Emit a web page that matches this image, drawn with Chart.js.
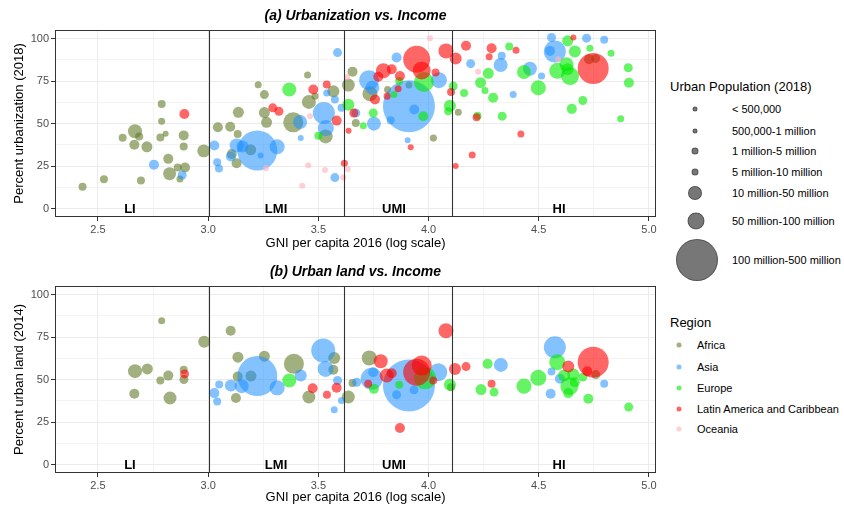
<!DOCTYPE html>
<html lang="en">
<head>
    <meta charset="UTF-8">
    <title>Urbanization vs. Income</title>
    <script src="https://cdn.jsdelivr.net/npm/chart.js"></script>
    <style>
        body { margin: 0; background: #fff; font-family: "Liberation Sans", Arial, sans-serif; }
        #wrap { position: relative; width: 844px; height: 509px; overflow: hidden; }
        canvas { position: absolute; left: 0; }
        .lg-title { position: absolute; left: 670px; font-size: 13px; color: #000; transform: translateY(-50%); white-space: nowrap; }
        .lg-label { position: absolute; font-size: 11px; color: #000; transform: translateY(-50%); white-space: nowrap; }
        .lg-dot { position: absolute; border-radius: 50%; transform: translate(-50%, -50%); }
        .size-dot { background: rgba(95,95,95,0.85); border: 1px solid rgba(60,60,60,0.6); box-sizing: border-box; }
    </style>
</head>
<body>
<div id="wrap">
    <canvas id="chartA" width="660" height="255" style="top:0;width:660px;height:255px"></canvas>
    <canvas id="chartB" width="660" height="253" style="top:256px;width:660px;height:253px"></canvas>

    <!-- size legend -->
    <div class="lg-title" style="top:86px">Urban Population (2018)</div>
    <div class="lg-dot size-dot" style="left:695px;top:109px;width:5px;height:5px"></div>
    <div class="lg-label" style="left:732px;top:109px">&lt; 500,000</div>
    <div class="lg-dot size-dot" style="left:695px;top:131px;width:5px;height:5px"></div>
    <div class="lg-label" style="left:732px;top:131px">500,000-1 million</div>
    <div class="lg-dot size-dot" style="left:695px;top:151px;width:7px;height:7px"></div>
    <div class="lg-label" style="left:732px;top:151px">1 million-5 million</div>
    <div class="lg-dot size-dot" style="left:695px;top:172px;width:7px;height:7px"></div>
    <div class="lg-label" style="left:732px;top:172px">5 million-10 million</div>
    <div class="lg-dot size-dot" style="left:695px;top:193px;width:14px;height:14px"></div>
    <div class="lg-label" style="left:732px;top:193px">10 million-50 million</div>
    <div class="lg-dot size-dot" style="left:696px;top:221px;width:17px;height:17px"></div>
    <div class="lg-label" style="left:732px;top:221px">50 million-100 million</div>
    <div class="lg-dot size-dot" style="left:697px;top:260px;width:42px;height:42px"></div>
    <div class="lg-label" style="left:732px;top:260px">100 million-500 million</div>

    <!-- region legend -->
    <div class="lg-title" style="top:322px">Region</div>
    <div id="regionLegend"></div>
</div>

<script>
    // --- data: [GNI per capita (log10), percent, urban population (millions, estimated)] ---
    const REGIONS = ['Africa', 'Asia', 'Europe', 'Latin America and Caribbean', 'Oceania'];
    const REGION_COLORS = ['rgba(100,122,40,0.6)', 'rgba(30,144,255,0.55)', 'rgba(0,235,0,0.6)', 'rgba(255,0,0,0.6)', 'rgba(255,182,193,0.65)'];

    const X_TICKS = [2.5, 2.75, 3.0, 3.25, 3.5, 3.75, 4.0, 4.25, 4.5, 4.75, 5.0];
    const Y_TICKS = [0, 12.5, 25, 37.5, 50, 62.5, 75, 87.5, 100];
    const THRESHOLDS = [3.005, 3.615, 4.105];
    const INCOME_GROUPS = ['LI', 'LMI', 'UMI', 'HI'];
    const INCOME_GROUP_X = [2.645, 3.308, 3.843, 4.592];

    const africaUrb = [
        [2.43,12.8,3.1],[2.527,17.2,3.1],[2.695,16.4,3.1],[2.612,41.6,3.1],[2.668,45.4,28],
        [2.687,42.4,3.1],[2.665,37.5,8.7],[2.722,36.3,12.5],[2.789,61.5,3.1],[2.789,51.3,1.4],
        [2.783,41.8,3.1],[2.807,44,0.35],[2.889,43,8.7],[2.889,36.5,3.1],[2.819,29.2,8.7],
        [2.825,20.5,22],[2.862,24.1,3.1],[2.895,24.1,8.7],[2.872,17.4,1.4],[2.98,33.9,22],
        [3.044,47.8,8.7],[3.1,48.1,8.7],[3.137,56.6,12.5],[3.134,43.8,3.1],[3.107,32,8.7],
        [3.129,26.6,8.7],[3.193,34.5,12.5],[3.255,56.4,12.5],[3.265,50.7,12.5],[3.227,72.8,1.4],
        [3.255,67,5.5],[3.386,50.7,78],[3.457,62.7,28],[3.451,78.5,1.4],[3.485,66.1,1.4],
        [3.568,69,17],[3.533,42.4,28],[3.655,80.5,8.7],[3.636,72.6,22],[3.67,50.3,3.1],
        [3.734,67.5,35],[3.814,70,1.4],[3.911,72.6,1.4],[4.022,41.4,1.4],[4.135,56.6,1.4],
        [4.728,87.8,8.7],[4.758,88.3,5.5]
    ];
    const asiaUrb = [
        [2.882,19.7,5.5],[2.754,25.8,8.7],[3.028,37.1,8.7],[3.041,27.2,3.1],[3.049,23.5,3.1],
        [3.129,37.1,28],[3.156,36.5,17],[3.103,30.6,8.7],[3.223,34.1,424],[3.313,36.3,35],
        [3.238,31.2,0.35],[3.417,50.9,28],[3.42,41.4,0.35],[3.538,68,1.4],[3.575,64.1,3.1],
        [3.525,56.2,100],[3.534,47.3,42],[3.575,18.2,5.5],[3.587,91.7,5.5],[3.605,59.2,3.1],
        [3.855,88.8,8.7],[3.911,60.2,764],[3.73,75.5,78],[3.745,71,28],[3.67,56.2,5.5],
        [3.752,49.9,28],[3.935,58.2,8.7],[3.828,51.9,3.1],[3.905,40.1,0.35],[4.047,75.5,42],
        [4.191,85.2,5.5],[4.332,89.8,3.1],[4.327,84.4,28],[4.384,67,1.4],[4.46,82.2,28],
        [4.513,77.9,1.4],[4.573,92.3,100],[4.558,100.6,5.5],[4.551,92.7,8.7],[4.717,100.2,5.5],
        [4.797,99.2,3.1]
    ];
    const europeUrb = [
        [3.368,70,28],[3.5,42.8,3.1],[3.636,61.1,17],[3.979,74.4,78],[3.867,75,3.1],
        [3.704,48.7,1.4],[3.749,56.2,5.5],[3.843,67,1.4],[3.976,54.3,8.7],[4.097,60.5,17],
        [4.089,57.2,3.1],[4.112,72,5.5],[4.161,68,3.1],[4.366,95.3,3.1],[4.271,79.5,12.5],
        [4.236,74,12.5],[4.256,69.4,1.4],[4.293,65.1,8.7],[4.334,54.3,5.5],[4.222,54.5,3.1],
        [4.433,80.3,28],[4.498,71,35],[4.631,98.6,12.5],[4.664,92.3,17],[4.732,94.3,1.4],
        [4.828,91.3,1.4],[4.584,81,42],[4.626,84.8,28],[4.642,77.9,58],[4.631,81.9,17],
        [4.906,82.8,5.5],[4.909,74,8.7],[4.7,63.5,5.5],[4.65,58.6,8.7],[4.872,52.8,1.4]
    ];
    const latamUrb = [
        [2.892,55.6,8.7],[3.293,59.2,5.5],[3.321,57.2,5.5],[3.477,70,8.7],[3.538,73,3.1],
        [3.583,51.7,8.7],[3.618,26.6,1.4],[3.661,56.2,5.5],[3.637,45.7,0.35],[3.946,87.8,167],
        [3.969,81.2,58],[4.079,92.7,35],[4.123,88.2,17],[4.17,95.7,8.7],[3.795,81,35],
        [3.833,81.9,8.7],[3.87,77.9,8.7],[3.772,77.5,8.7],[3.757,64.1,8.7],[3.812,66.1,1.4],
        [3.862,70.4,1.4],[3.919,36.1,0.35],[4.102,68.5,3.1],[4.123,25,0.35],[4.032,80,3.1],
        [4.286,94.3,8.7],[4.275,89.3,1.4],[4.397,93.1,1.4],[4.218,53.7,3.1],[4.419,43.8,1.4],
        [4.198,31.5,1.4],[4.657,100.6,0.35],[4.747,82.4,234]
    ];
    const oceaniaUrb = [
        [3.262,23.7,0.35],[3.454,25.4,0.35],[3.427,13.4,0.35],[3.462,54.3,0.35],[3.53,22.7,0.35],
        [3.613,18.3,0.35],[3.633,23.3,0.35],[3.631,77.3,0.35],[4.006,100.2,0.35],[4.225,80.5,0.35],
        [4.588,87.8,0.35]
    ];

    const africaLand = [
        [2.789,84.5,1.4],[2.982,72.2,17],[2.668,54.9,28],[2.724,56.2,12.5],[2.819,52.3,8.7],
        [2.783,49.4,3.1],[2.889,55.7,3.1],[2.89,50,5.5],[2.665,41.6,8.7],[2.827,39.1,22],
        [3.102,78.7,8.7],[3.135,63.1,12.5],[3.255,63.7,12.5],[3.194,52,12.5],[3.134,51.7,8.7],
        [3.126,39.1,8.7],[3.389,59.2,78],[3.457,39.7,22],[3.572,62.7,17],[3.568,55.7,8.7],
        [3.636,39.7,22],[3.655,47.9,3.1],[3.731,62.7,35],[4.102,45.5,3.1],[4.759,52.9,5.5]
    ];
    const asiaLand = [
        [3.223,52,424],[3.152,46.1,28],[3.103,46.5,17],[3.05,47,3.1],[3.028,42,8.7],
        [3.041,37.1,3.1],[3.313,45.1,35],[3.42,52.3,17],[3.522,67,125],[3.533,56.2,42],
        [3.587,49.4,5.5],[3.605,37.7,1.4],[3.572,32.2,1.4],[3.742,50.4,100],[3.749,54.3,8.7],
        [3.674,48.4,5.5],[3.911,46.5,764],[4.044,54.3,58],[3.855,41,5.5],[3.934,43.9,5.5],
        [4.328,58.6,28],[4.573,69,100],[4.558,54.7,3.1],[4.596,50.4,8.7],[4.554,41.6,8.7],
        [4.797,47.5,3.1]
    ];
    const europeLand = [
        [3.368,49.4,28],[3.752,44.5,8.7],[3.984,50.8,100],[3.867,46.9,3.1],[4.097,46.9,17],
        [4.268,59.2,8.7],[4.238,44.1,12.5],[4.297,42.6,5.5],[4.433,46.1,35],[4.498,51,42],
        [4.584,60.2,42],[4.615,52.3,17],[4.657,52.9,17],[4.639,46.1,58],[4.664,48.4,8.7],
        [4.634,42,8.7],[4.725,38.7,8.7],[4.7,51.4,5.5],[4.908,33.8,5.5]
    ];
    const latamLand = [
        [2.893,53.3,5.5],[3.474,44.9,8.7],[3.539,41,3.1],[3.583,45.1,8.7],[3.783,60.7,28],
        [3.726,47.5,3.1],[3.81,52.3,28],[3.833,53.7,8.7],[3.946,54.3,167],[3.969,58.2,78],
        [4.021,49.4,3.1],[3.87,21.5,8.7],[4.079,78.7,35],[4.12,56.2,17],[4.17,57.6,5.5],
        [4.286,47.5,3.1],[4.634,57.6,17],[4.747,60.2,234],[4.72,54.9,8.7]
    ];
    const oceaniaLand = [];

    // --- helpers ---
    const FONT = '"Liberation Sans", Arial, sans-serif';
    const popToRadius = pop => 2.5 + 0.85 * Math.sqrt(pop);
    const isMajorX = v => Math.abs(v * 2 - Math.round(v * 2)) < 1e-9;
    const isMajorY = v => Math.abs(v / 25 - Math.round(v / 25)) < 1e-9;

    const decor = {
        id: 'decor',
        afterDatasetsDraw(chart, args, opts) {
            const { ctx, chartArea: a, scales: { x, y } } = chart;
            ctx.save();
            ctx.strokeStyle = '#333';
            ctx.lineWidth = 1.1;
            THRESHOLDS.forEach(t => {
                const px = Math.round(x.getPixelForValue(t)) + 0.5;
                ctx.beginPath();
                ctx.moveTo(px, a.top);
                ctx.lineTo(px, a.bottom);
                ctx.stroke();
            });
            ctx.fillStyle = '#000';
            ctx.font = 'bold 13px ' + FONT;
            ctx.textAlign = 'center';
            ctx.textBaseline = 'middle';
            INCOME_GROUPS.forEach((g, i) => {
                ctx.fillText(g, x.getPixelForValue(INCOME_GROUP_X[i]), y.getPixelForValue(0) + 1);
            });
            ctx.lineWidth = 1;
            ctx.strokeRect(a.left + 0.5, a.top + 0.5, a.width - 1, a.height - 1);
            ctx.font = 'italic bold 14px ' + FONT;
            ctx.fillText(opts.title, (a.left + a.right) / 2, 16);
            ctx.restore();
        }
    };

    function makeChart(id, title, yTitle, seriesList, xHeight) {
        const datasets = seriesList.map((rows, i) => ({
            label: REGIONS[i],
            data: rows.map(r => ({ x: r[0], y: r[1], r: popToRadius(r[2]) })),
            backgroundColor: REGION_COLORS[i],
            borderWidth: 0,
            hoverBorderWidth: 0,
            clip: 0
        }));
        // first region drawn at the bottom
        datasets.forEach((d, i) => d.order = seriesList.length - i);

        new Chart(document.getElementById(id), {
            type: 'bubble',
            data: { datasets },
            plugins: [decor],
            options: {
                responsive: false,
                animation: false,
                events: [],
                layout: { autoPadding: false, padding: { top: 30, right: 4, left: 0, bottom: 0 } },
                plugins: {
                    legend: { display: false },
                    tooltip: { enabled: false },
                    decor: { title }
                },
                scales: {
                    x: {
                        type: 'linear',
                        min: 2.305,
                        max: 5.032,
                        afterBuildTicks: s => { s.ticks = X_TICKS.map(v => ({ value: v })); },
                        afterFit: s => { s.height = xHeight; s.paddingLeft = 0; s.paddingRight = 0; },
                        ticks: {
                            autoSkip: false, maxRotation: 0, padding: 2,
                            color: '#4D4D4D', font: { family: FONT, size: 11 },
                            callback: v => isMajorX(v) ? v.toFixed(1) : ''
                        },
                        grid: {
                            color: c => isMajorX(c.tick.value) ? '#EBEBEB' : '#F3F3F3',
                            tickColor: c => isMajorX(c.tick.value) ? '#333' : 'rgba(0,0,0,0)',
                            tickLength: 4
                        },
                        border: { display: false },
                        title: {
                            display: true, text: 'GNI per capita 2016 (log scale)',
                            color: '#000', font: { family: FONT, size: 13 },
                            padding: { top: 0, bottom: 4 }
                        }
                    },
                    y: {
                        type: 'linear',
                        min: -5,
                        max: 105,
                        afterBuildTicks: s => { s.ticks = Y_TICKS.map(v => ({ value: v })); },
                        afterFit: s => { s.width = 55; s.paddingTop = 0; s.paddingBottom = 0; },
                        ticks: {
                            autoSkip: false, padding: 2,
                            color: '#4D4D4D', font: { family: FONT, size: 11 },
                            callback: v => isMajorY(v) ? String(v) : ''
                        },
                        grid: {
                            color: c => isMajorY(c.tick.value) ? '#EBEBEB' : '#F3F3F3',
                            tickColor: c => isMajorY(c.tick.value) ? '#333' : 'rgba(0,0,0,0)',
                            tickLength: 4
                        },
                        border: { display: false },
                        title: {
                            display: true, text: yTitle,
                            color: '#000', font: { family: FONT, size: 13 },
                            padding: { top: 12, bottom: 0 }
                        }
                    }
                }
            }
        });
    }

    makeChart('chartA', '(a) Urbanization vs. Income', 'Percent urbanization (2018)',
        [africaUrb, asiaUrb, europeUrb, latamUrb, oceaniaUrb], 38);
    makeChart('chartB', '(b) Urban land vs. Income', 'Percent urban land (2014)',
        [africaLand, asiaLand, europeLand, latamLand, oceaniaLand], 36);

    // --- region legend ---
    const legendEl = document.getElementById('regionLegend');
    const legendRows = [345, 367, 388, 409, 429];
    REGIONS.forEach((name, i) => {
        legendEl.innerHTML += `
            <div class="lg-dot" style="left:679px;top:${legendRows[i]}px;width:5px;height:5px;background:${REGION_COLORS[i]}"></div>
            <div class="lg-label" style="left:697px;top:${legendRows[i]}px">${name}</div>`;
    });
</script>
</body>
</html>
